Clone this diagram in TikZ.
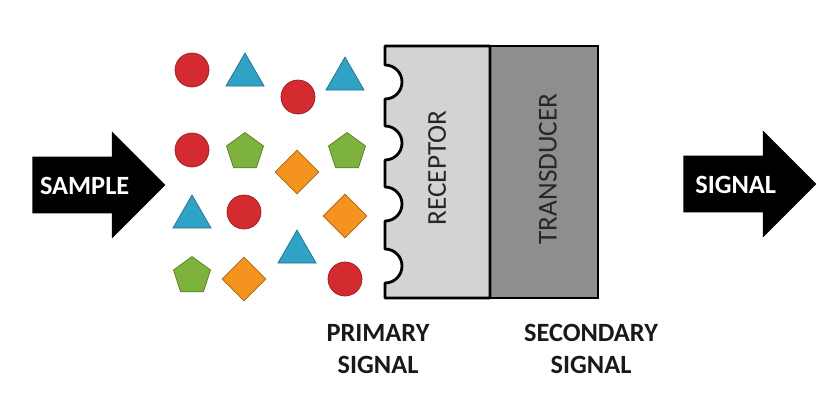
\documentclass[tikz,border=0pt]{standalone}
\usepackage{fontspec}
\setmainfont{Carlito}
\usepackage{xcolor}
\usetikzlibrary{shapes.geometric, shapes.arrows, positioning}
\definecolor{analytered}{HTML}{D42B30}
\definecolor{analyteblue}{HTML}{2FA2C6}
\definecolor{analytegreen}{HTML}{7DB23C}
\definecolor{analyteorange}{HTML}{F5931F}
\definecolor{receptorgray}{HTML}{D3D3D3}
\definecolor{transducergray}{HTML}{8E8E8E}
\tikzset{
  every picture/.style={font=\fontsize{15}{18}\selectfont},
  bigarrow/.style={single arrow, fill=black, text=white, inner sep=0pt,
              text height=3.6mm, text depth=0pt, inner ysep=3.8mm,
              single arrow head extend=5mm, minimum height=26.6mm,
              font=\fontsize{15}{18}\selectfont\bfseries},
  ball/.style={circle, fill=analytered, draw=analytered!70!black, thin,
              minimum size=6.8mm, inner sep=0pt},
  tri/.style={regular polygon, regular polygon sides=3, fill=analyteblue,
              draw=analyteblue!70!black, thin, minimum size=8.8mm, inner sep=0pt},
  penta/.style={regular polygon, regular polygon sides=5, fill=analytegreen,
              draw=analytegreen!70!black, thin, minimum size=7.8mm, inner sep=0pt},
  gem/.style={diamond, fill=analyteorange, draw=analyteorange!70!black, thin,
              minimum width=8.8mm, minimum height=8.8mm, inner sep=0pt},
  blocklabel/.style={rotate=90, font=\fontsize{15.5}{18}\selectfont, text=black!85},
  caption/.style={align=center, font=\fontsize{15}{18}\selectfont\bfseries, text=black!90},
}

\begin{document}
\begin{tikzpicture}[x=0.02cm, y=-0.02cm]
  \useasboundingbox (0,0) rectangle (827,403);

  % in and out arrows
  \node[bigarrow, anchor=tail] (sample) at (32,185) {SAMPLE};
  \node[bigarrow, anchor=tail] (signal) at (683,184) {SIGNAL};

  % analytes in the sample
  \node[ball] (c1) at (192,70) {};
  \node[ball] (c2) at (298,97) {};
  \node[ball] (c3) at (192,150) {};
  \node[ball] (c4) at (244,212) {};
  \node[ball] (c5) at (345,279) {};
  \node[tri] (t1) at (245,75) {};
  \node[tri] (t2) at (345,79) {};
  \node[tri] (t3) at (192,217) {};
  \node[tri] (t4) at (297,252) {};
  \node[penta] (p1) at (245,152) {};
  \node[penta] (p2) at (347,152) {};
  \node[penta] (p3) at (192,276) {};
  \node[gem] (d1) at (297,172) {};
  \node[gem] (d2) at (345,216) {};
  \node[gem] (d3) at (244,279) {};

  % transducer block
  \draw[fill=transducergray, line width=1.6pt] (490,46) rectangle (598,298);
  % receptor block with binding sites
  \draw[fill=receptorgray, line width=1.6pt, line join=round]
    (490,46) -- (385,46) -- (385,65)
    arc[start angle=-90, end angle=90, radius=17] -- (385,126)
    arc[start angle=-90, end angle=90, radius=17] -- (385,187)
    arc[start angle=-90, end angle=90, radius=17] -- (385,249)
    arc[start angle=-90, end angle=90, radius=17] -- (385,298) -- (490,298) -- cycle;

  \node[blocklabel] (receptor) at (437,168) {RECEPTOR};
  \node[blocklabel] (transducer) at (548,169) {TRANSDUCER};

  \node[caption] (primary) at (378,349) {PRIMARY\\SIGNAL};
  \node[caption] (secondary) at (591,349) {SECONDARY\\SIGNAL};
\end{tikzpicture}
\end{document}
